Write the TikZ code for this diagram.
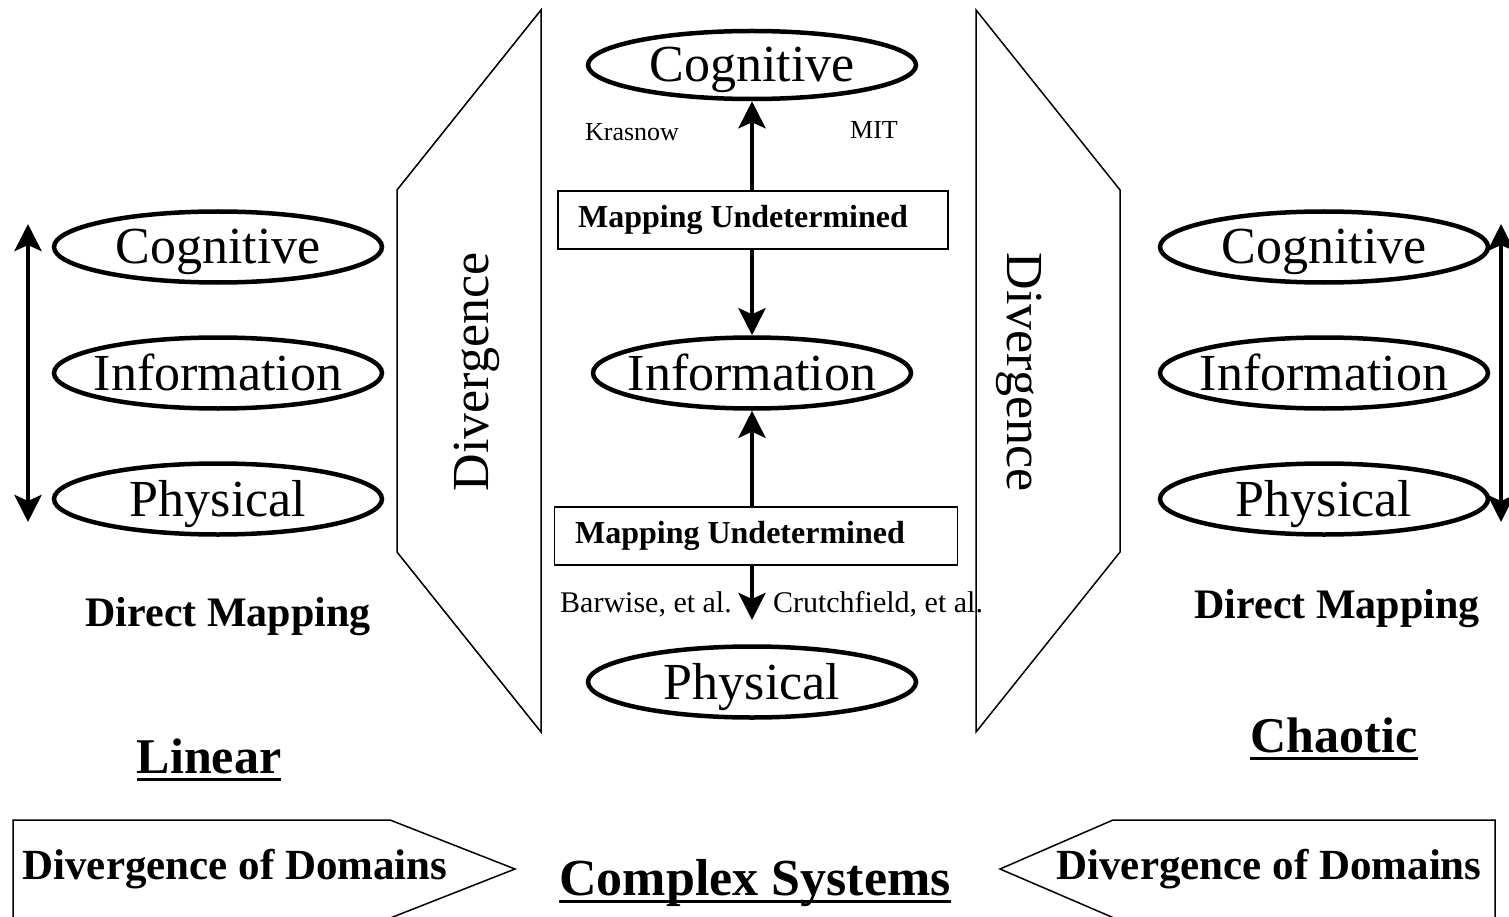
\documentclass[tikz,border=0pt]{standalone}
\usepackage{fontspec}
\setmainfont{Liberation Serif}
\usetikzlibrary{shapes.geometric,arrows.meta}
\newcommand\zw[1]{\makebox[0pt]{#1}}
\begin{document}
\begin{tikzpicture}[x=1pt,y=-1pt,
  ell/.style={ellipse,draw,line width=4.5pt,inner sep=0pt,minimum width=328pt,minimum height=71pt,
    text height=34pt,text depth=0pt,font=\fontsize{52}{58}\selectfont},
  mbox/.style={draw,line width=1.5pt,inner sep=0pt,minimum height=58pt,font=\bfseries\fontsize{32}{36}\selectfont},
  arr/.style={line width=4.5pt,-{Stealth[length=27pt,width=27pt,inset=6pt]}},
  darr/.style={line width=4.5pt,{Stealth[length=27pt,width=27pt,inset=6pt]}-{Stealth[length=27pt,width=27pt,inset=6pt]}},
  thinl/.style={line width=1.5pt,line join=miter},
  smalltxt/.style={inner sep=0pt,font=\fontsize{26}{30}\selectfont},
  midtxt/.style={inner sep=0pt,font=\fontsize{30}{34}\selectfont},
  divtxt/.style={inner sep=0pt,font=\fontsize{52}{58}\selectfont},
  dmtxt/.style={inner sep=0pt,font=\bfseries\fontsize{42}{48}\selectfont},
  ddtxt/.style={inner sep=0pt,font=\bfseries\fontsize{43}{48}\selectfont},
  ttl/.style={inner sep=0pt,anchor=base,font=\bfseries\fontsize{50}{56}\selectfont},
  ulline/.style={line width=3pt}]
\useasboundingbox (0,0) rectangle (1509,917);

% left panel
\node[ell] (lcog) at (218,247) {\zw{Cognitive}};
\node[ell] (linf) at (218,373) {\zw{Information}};
\node[ell] (lphy) at (218,499) {\zw{Physical}};
\coordinate (la1) at (28,224);
\coordinate (la2) at (28,522);
\draw[darr] (la1) -- (la2);
\node[dmtxt] (dml) at (228,617) {Direct Mapping};
\node[ttl] (lin) at (209,773) {Linear};
\draw[ulline] ([yshift=-6pt]lin.base west) -- ([yshift=-6pt]lin.base east);

% right panel
\node[ell] (rcog) at (1324,247) {\zw{Cognitive}};
\node[ell] (rinf) at (1324,373) {\zw{Information}};
\node[ell] (rphy) at (1324,499) {\zw{Physical}};
\coordinate (ra1) at (1501,224);
\coordinate (ra2) at (1501,522);
\draw[darr] (ra1) -- (ra2);
\node[dmtxt] (dmr) at (1337,609) {Direct Mapping};
\node[ttl] (cha) at (1334,752) {Chaotic};
\draw[ulline] ([yshift=-6pt]cha.base west) -- ([yshift=-6pt]cha.base east);

% divergence trapezoids
\draw[thinl] (397,190) -- (541,10) -- (541,732) -- (397,552) -- cycle;
\draw[thinl] (976,10) -- (1120,190) -- (1120,552) -- (976,732) -- cycle;
\node[divtxt,rotate=90] (dl) at (477,372) {Divergence};
\node[divtxt,rotate=-90] (dr) at (1019,372) {Divergence};

% centre
\node[ell,minimum height=68pt] (ccog) at (752,65) {\zw{Cognitive}};
\node[ell,minimum width=318pt] (cinf) at (752,373) {\zw{Information}};
\node[ell] (cphy) at (752,682) {\zw{Physical}};
\node[mbox,minimum width=390pt] (b1) at (753,220) {\makebox[0pt]{Mapping Undetermined\hspace{20pt}}};
\node[mbox,minimum width=403pt] (b2) at (756,536) {\makebox[0pt]{Mapping Undetermined\hspace{32pt}}};
\coordinate (ptip) at (752,620);
\draw[arr] (b1.north -| ccog) -- (ccog.south);
\draw[arr] (b1.south -| ccog) -- (cinf.north);
\draw[arr] (b2.north -| ccog) -- (cinf.south);
\draw[arr] (b2.south -| ccog) -- (ptip);
\node[smalltxt] (kras) at (632,132) {Krasnow};
\node[smalltxt] (mit) at (874,130) {MIT};
\node[midtxt] (bar) at (646,604) {Barwise, et al.};
\node[midtxt] (cru) at (878,604) {Crutchfield, et al.};

% bottom
\draw[thinl] (13,930) -- (13,820) -- (390,820) -- (515,869) -- (375,924);
\draw[thinl] (1495,930) -- (1495,820) -- (1113,820) -- (1000,869) -- (1128,924);
\node[ddtxt] (dd1) at (235,869) {Divergence of Domains};
\node[ddtxt] (dd2) at (1269,869) {Divergence of Domains};
\node[ttl,font=\bfseries\fontsize{52}{58}\selectfont] (cs) at (755,895) {Complex Systems};
\draw[ulline] ([yshift=-6pt]cs.base west) -- ([yshift=-6pt]cs.base east);
\end{tikzpicture}
\end{document}
